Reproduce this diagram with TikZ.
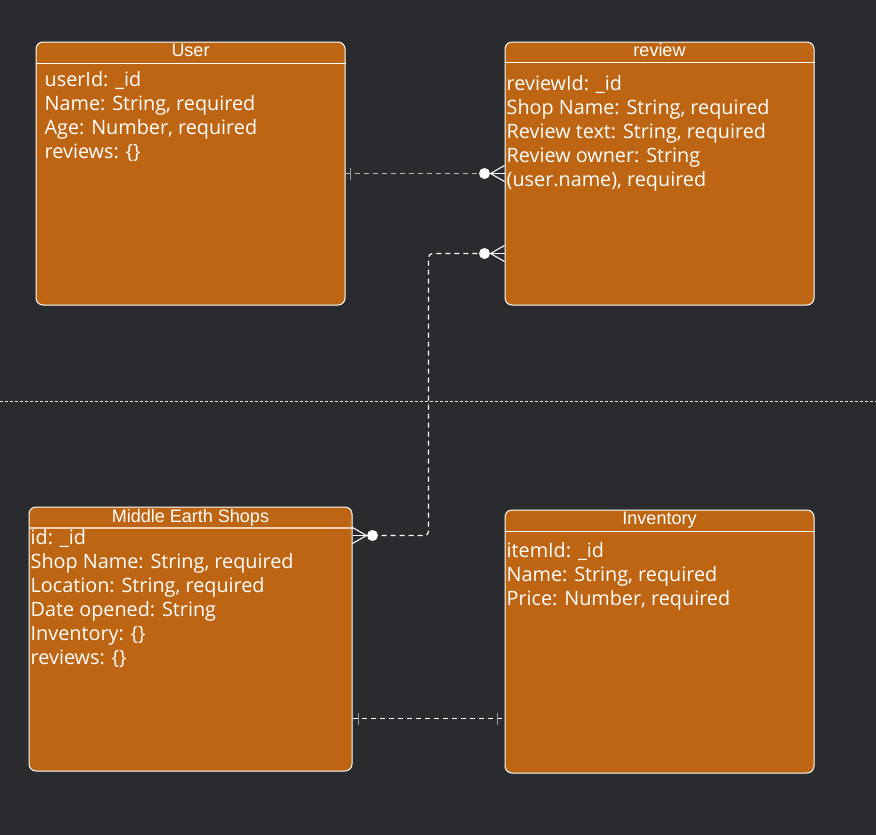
\documentclass[tikz,border=0pt]{standalone}
\usepackage{fontspec}
\setmainfont{Open Sans}
\newfontfamily\titlefont{Liberation Sans}
\usetikzlibrary{calc}
\definecolor{bg}{HTML}{2A2B2E}
\definecolor{boxfill}{HTML}{BD6513}
\definecolor{graylink}{HTML}{B4B4B4}
\definecolor{barcol}{HTML}{9A9A9A}
\tikzset{
  entity/.style={draw=white, line width=1pt, fill=boxfill, rounded corners=7pt, inner sep=0pt},
  hdr/.style={draw=white, line width=1pt},
  ttl/.style={text=white, font=\titlefont\fontsize{18}{20}\selectfont, anchor=base, inner sep=0pt},
  body/.style={text=white, font=\fontsize{19.8}{24}\selectfont, align=left, anchor=base west, inner sep=0pt},
  conn/.style={line width=1.2pt, dash pattern=on 5pt off 4pt},
  bar/.style={draw=barcol, line width=1.6pt},
  foot/.style={draw=white, line width=1.1pt},
  dot/.style={fill=white, draw=none},
}
\begin{document}
\begin{tikzpicture}[x=1pt,y=-1pt]
\useasboundingbox[fill=bg] (0,0) rectangle (876,835);

% separator
\draw[white!85!bg, line width=0.9pt, dash pattern=on 3pt off 2pt] (0,401) -- (876,401);

% boxes
\node[entity, minimum width=309pt, minimum height=263pt] (user) at (190.5,173.5) {};
\node[entity, minimum width=309pt, minimum height=263pt] (review) at (659.5,173.5) {};
\node[entity, minimum width=323pt, minimum height=264pt] (shops) at (190.5,639) {};
\node[entity, minimum width=309pt, minimum height=263pt] (inv) at (659.5,641.5) {};

% header lines
\draw[hdr] ($(user.north west)+(0,22)$) -- ($(user.north east)+(0,22)$);
\draw[hdr] ($(review.north west)+(0,21)$) -- ($(review.north east)+(0,21)$);
\draw[draw=white!70!boxfill, line width=1.3pt] ($(shops.north west)+(0,21.5)$) -- ($(shops.north east)+(0,21.5)$);
\draw[hdr] ($(inv.north west)+(0,21.5)$) -- ($(inv.north east)+(0,21.5)$);

% titles
\node[ttl] (usert) at ($(user.north)+(0,14.7)$) {User};
\node[ttl] (reviewt) at ($(review.north)+(0,14.7)$) {review};
\node[ttl] (shopst) at ($(shops.north)+(0,15.7)$) {Middle Earth Shops};
\node[ttl] (invt) at ($(inv.north)+(0,15)$) {Inventory};

% bodies (base anchor = baseline of last line)
\node[body] (userb) at ($(user.north west)+(9,116.5)$) {userId: \_id\\Name: String, required\\Age: Number, required\\reviews: \{\}};
\node[body] (reviewb) at ($(review.north west)+(2,144.7)$) {reviewId: \_id\\Shop Name: String, required\\Review text: String, required\\Review owner: String\\(user.name), required};
\node[body] (shopsb) at ($(shops.north west)+(2,158)$) {id: \_id\\Shop Name: String, required\\Location: String, required\\Date opened: String\\Inventory: \{\}\\reviews: \{\}};
\node[body] (invb) at ($(inv.north west)+(2,96.3)$) {itemId: \_id\\Name: String, required\\Price: Number, required};

% connector 1: user -- review
\coordinate (u1) at (user.east);
\coordinate (r1) at (review.west);
\draw[conn, draw=graylink] (u1) -- ($(r1)+(-20,0)$);
\draw[bar] ($(u1)+(5,-6)$) -- ($(u1)+(5,6)$);
\fill[dot] ($(r1)+(-20,0)$) circle (5.5pt);
\draw[foot] ($(r1)+(0,-8)$) -- ($(r1)+(-14,0)$) -- ($(r1)+(0,8)$);
\draw[foot] ($(r1)+(-14,0)$) -- (r1);

% connector 2: shops -- review
\coordinate (r2) at ($(review.south west)+(0,-52)$);
\coordinate (s2) at ($(shops.north east)+(0,29)$);
\draw[conn, draw=white, rounded corners=4pt] ($(s2)+(20,0)$) -- ($(s2)+(76,0)$) |- ($(r2)+(-20,0)$);
\fill[dot] ($(r2)+(-20,0)$) circle (5.5pt);
\draw[foot] ($(r2)+(0,-8)$) -- ($(r2)+(-14,0)$) -- ($(r2)+(0,8)$);
\draw[foot] ($(r2)+(-14,0)$) -- (r2);
\fill[dot] ($(s2)+(20,0)$) circle (5.5pt);
\draw[foot] ($(s2)+(0,-8)$) -- ($(s2)+(14,0)$) -- ($(s2)+(0,8)$);
\draw[foot] ($(s2)+(14,0)$) -- (s2);

% connector 3: shops -- inventory
\coordinate (s3) at ($(shops.south east)+(0,-53)$);
\coordinate (i3) at ($(inv.south west)+(0,-55)$);
\draw[conn, draw=white] (s3) -- (i3);
\draw[bar] ($(s3)+(6,-6)$) -- ($(s3)+(6,6)$);
\draw[bar] ($(i3)+(-7,-6)$) -- ($(i3)+(-7,6)$);
\end{tikzpicture}
\end{document}
